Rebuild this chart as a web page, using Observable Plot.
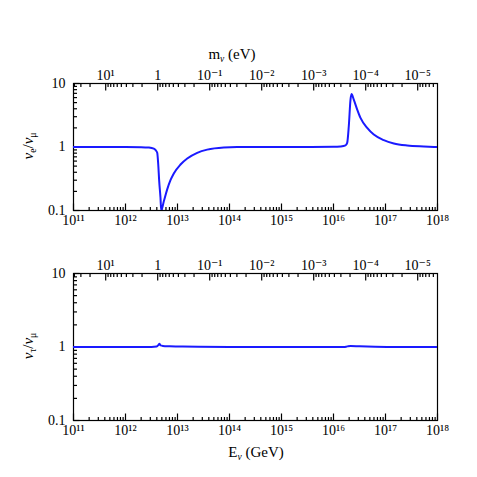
<!DOCTYPE html>
<html><head><meta charset="utf-8">
<script src="https://cdn.jsdelivr.net/npm/d3@7"></script>
<script src="https://cdn.jsdelivr.net/npm/@observablehq/plot@0.6"></script>
<style>
html,body{margin:0;padding:0;background:#fff;}
#chart{width:477px;height:477px;}
svg{display:block;}
</style></head><body><div id="chart"></div>
<script>
// ν_e / ν_μ (top panel): log10(E/GeV) and ratio
const logE_e = [11, 12.0, 12.3, 12.45, 12.544, 12.58, 12.61, 12.629, 12.648, 12.673, 12.687, 12.737, 12.802, 12.865, 12.929, 13.058, 13.187, 13.379, 13.571, 13.89, 14.148, 15.0, 16.0, 16.135, 16.231, 16.263, 16.294, 16.327, 16.346, 16.39, 16.456, 16.519, 16.648, 16.775, 16.967, 17.16, 17.417, 17.737, 18];
const ratio_e = [1.0, 1.0, 0.995, 0.98, 0.94, 0.89, 0.81, 0.54, 0.29, 0.158, 0.10, 0.14, 0.215, 0.30, 0.384, 0.53, 0.66, 0.81, 0.91, 0.985, 1.0, 1.0, 1.005, 1.02, 1.06, 1.16, 2.12, 5.57, 6.84, 5.57, 3.88, 2.87, 2.0, 1.57, 1.28, 1.135, 1.056, 1.02, 1.0];
// ν_τ / ν_μ (bottom panel)
const logE_tau = [11, 12.5, 12.6, 12.635, 12.655, 12.675, 12.72, 12.85, 13.1, 13.4, 14, 16.2, 16.27, 16.33, 16.5, 16.8, 17.2, 18];
const ratio_tau = [1.0, 1.0, 1.015, 1.07, 1.11, 1.05, 1.035, 1.025, 1.012, 1.004, 1.0, 1.0, 1.02, 1.03, 1.02, 1.008, 1.0, 1.0];

// Axis ticks
const eMajor = [1e11, 1e12, 1e13, 1e14, 1e15, 1e16, 1e17, 1e18];
const eMajorLabels = ["10¹¹", "10¹²", "10¹³", "10¹⁴", "10¹⁵", "10¹⁶", "10¹⁷", "10¹⁸"];
const mMajor = [10, 1, 0.1, 0.01, 0.001, 1e-4, 1e-5];
const mMajorLabels = ["10¹", "1", "10⁻¹", "10⁻²", "10⁻³", "10⁻⁴", "10⁻⁵"];
const yMajor = [0.1, 1, 10];
const yMajorLabels = ["0.1", "1", "10"];
// Z-resonance relation: E_ν (GeV) × m_ν (eV) = M_Z² / 2
const resonanceEM = 4.16e12;

const xDomain = [1e11, 1e18];
const yDomain = [0.1, 10];

function minorTicks(lo, hi) {
  const out = [];
  for (let p = Math.floor(Math.log10(lo)) - 1; p <= Math.ceil(Math.log10(hi)); p++) {
    for (let k = 2; k <= 9; k++) {
      const v = k * Math.pow(10, p);
      if (v > lo * 1.0001 && v < hi * 0.9999) out.push(v);
    }
  }
  return out;
}
const eMinor = minorTicks(1e11, 1e18);
const mMinor = minorTicks(resonanceEM / 1e18, resonanceEM / 1e11);
const yMinor = minorTicks(0.1, 10);

function labeler(values, labels) {
  return d => {
    const i = values.findIndex(v => Math.abs(Math.log10(v) - Math.log10(d)) < 1e-6);
    return i >= 0 ? labels[i] : "";
  };
}

const topMajor = mMajor.map((m, i) => ({E: resonanceEM / m, label: mMajorLabels[i]}));
const topMinorE = mMinor.map(m => resonanceEM / m);

const FONT = "'Liberation Serif', 'Times New Roman', 'DejaVu Serif', serif";
const W = 477, ML = 73, MR = 40;
const MAJ = 7, MIN = 3.5, YMAJ = 6;

function panel({height, marginTop, marginBottom, logE, ratio}) {
  const data = logE.map((l, i) => ({E: Math.pow(10, l), r: ratio[i]}));
  const ih = height - marginTop - marginBottom;
  const iw = W - ML - MR;
  // tick lengths (px) expressed as multiplicative factors on the log scales
  const yf = L => Math.pow(10, L * (Math.log10(yDomain[1] / yDomain[0])) / ih);
  const xf = L => Math.pow(10, L * (Math.log10(xDomain[1] / xDomain[0])) / iw);
  const tick = {stroke: "black", strokeWidth: 1.2};
  const bottomTicks = (vals, L) => Plot.link(vals, {x1: d => d, x2: d => d, y1: yDomain[0], y2: yDomain[0] * yf(L), ...tick});
  const topTicks = (vals, L) => Plot.link(vals, {x1: d => d, x2: d => d, y1: yDomain[1], y2: yDomain[1] / yf(L), ...tick});
  const leftTicks = (vals, L) => Plot.link(vals, {y1: d => d, y2: d => d, x1: xDomain[0], x2: xDomain[0] * xf(L), ...tick});
  return Plot.plot({
    width: W, height, marginTop, marginBottom, marginLeft: ML, marginRight: MR,
    style: {fontFamily: FONT, fontSize: "14px", color: "black", background: "white", overflow: "visible"},
    x: {type: "log", domain: xDomain},
    y: {type: "log", domain: yDomain},
    marks: [
      // bottom axis labels (E)
      Plot.axisX({anchor: "bottom", ticks: eMajor, tickSize: 0, tickPadding: 5, tickFormat: labeler(eMajor, eMajorLabels), label: null}),
      bottomTicks(eMajor, MAJ),
      bottomTicks(eMinor, MIN),
      // top axis (m) ticks + labels
      topTicks(topMajor.map(d => d.E), MAJ),
      topTicks(topMinorE, MIN),
      Plot.text(topMajor, {x: "E", text: "label", frameAnchor: "top", lineAnchor: "bottom", dy: -4, fontSize: 14}),
      // left axis
      Plot.axisY({anchor: "left", ticks: yMajor, tickSize: 0, tickPadding: 8, tickFormat: labeler(yMajor, yMajorLabels), label: null}),
      leftTicks(yMajor, YMAJ),
      leftTicks(yMinor, MIN),
      Plot.frame({stroke: "black", strokeWidth: 1.2}),
      Plot.line(data, {x: "E", y: "r", stroke: "#1a1aff", strokeWidth: 2, curve: "monotone-x", clip: true})
    ]
  });
}

function addYLabel(svg, cy, sub) {
  const t = d3.select(svg).append("text")
    .attr("transform", `translate(33,${cy}) rotate(-90)`)
    .attr("text-anchor", "middle")
    .attr("font-family", FONT).attr("font-size", 15).attr("fill", "black");
  t.append("tspan").attr("font-style", "italic").text("ν");
  t.append("tspan").attr("font-size", 9.5).attr("dy", 3).text(sub);
  t.append("tspan").attr("dy", -3).text("/");
  t.append("tspan").attr("font-style", "italic").text("ν");
  t.append("tspan").attr("font-size", 9.5).attr("dy", 3).text("μ");
}
function addXLabel(svg, x, y, main, sub, rest) {
  const t = d3.select(svg).append("text")
    .attr("x", x).attr("y", y).attr("text-anchor", "middle")
    .attr("font-family", FONT).attr("font-size", 15).attr("fill", "black");
  t.append("tspan").text(main);
  t.append("tspan").attr("font-size", 9.5).attr("dy", 3).attr("font-style", "italic").text(sub);
  t.append("tspan").attr("dy", -3).text(rest);
}

const p1 = panel({height: 240, marginTop: 83, marginBottom: 30, logE: logE_e, ratio: ratio_e});
const p2 = panel({height: 237, marginTop: 33, marginBottom: 57, logE: logE_tau, ratio: ratio_tau});
addYLabel(p1, 146, "e");
addYLabel(p2, 106, "τ");
addXLabel(p1, 232, 59, "m", "ν", " (eV)");
addXLabel(p2, 256, 217, "E", "ν", " (GeV)");
document.getElementById("chart").append(p1, p2);
</script>
</body></html>
